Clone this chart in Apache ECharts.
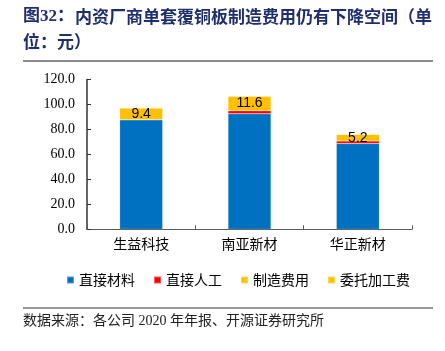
<!DOCTYPE html>
<html>
<head>
<meta charset="utf-8">
<script src="https://cdn.jsdelivr.net/npm/echarts@6/dist/echarts.min.js"></script>
<style>
html,body{margin:0;padding:0;background:#fff;}
#main{width:445px;height:351px;}
</style>
</head>
<body>
<div id="main"></div>
<script>
// 单套覆铜板成本拆分（元）
var categories = ['生益科技', '南亚新材', '华正新材'];
var material = [87.7, 92.5, 68.7];      // 直接材料
var labor = [0, 2.4, 2.1];              // 直接人工
var manufacturing = [9.4, 11.6, 5.2];   // 制造费用
var outsourcing = [0, 0.3, 0.4];        // 委托加工费
var yTicks = [0, 20, 40, 60, 80, 100, 120];

var serifCn = '"Liberation Serif", "Noto Sans CJK SC"';
var sansCn = '"Noto Sans CJK SC"';

function barSeries(name, data, color, label) {
    return {
        name: name,
        type: 'bar',
        stack: 'cost',
        barWidth: 43,
        data: data,
        itemStyle: {
            color: color,
            borderColor: 'rgba(255,255,255,0.35)',
            borderWidth: 0.5
        },
        label: label ? {
            show: true,
            position: 'inside',
            color: '#000',
            fontSize: 14,
            fontFamily: 'Liberation Sans',
            formatter: function (p) { return p.value.toFixed(1); }
        } : { show: false }
    };
}

var myChart = echarts.init(document.getElementById('main'), null, {renderer: 'canvas'});
var option = {
    backgroundColor: '#FFFFFF',
    animation: false,
    graphic: [
        {type: 'text', left: 23, top: 8, style: {text: '图32：', fontSize: 17, fontWeight: 'bold', fill: '#1f2f6e', fontFamily: serifCn}},
        {type: 'text', left: 75, top: 8, style: {text: '内资厂商单套覆铜板制造费用仍有下降空间（单', fontSize: 17, fontWeight: 'bold', fill: '#1f2f6e', fontFamily: sansCn}},
        {type: 'text', left: 23, top: 33, style: {text: '位：元）', fontSize: 17, fontWeight: 'bold', fill: '#1f2f6e', fontFamily: sansCn}},
        {type: 'line', shape: {x1: 23, y1: 61, x2: 433, y2: 61}, style: {stroke: '#666', lineWidth: 1.5}},
        {type: 'line', shape: {x1: 23, y1: 308, x2: 433, y2: 308}, style: {stroke: '#333', lineWidth: 1.2}},
        {type: 'text', left: 23, top: 314, style: {text: '数据来源：各公司 2020 年年报、开源证券研究所', fontSize: 14, fill: '#222', fontFamily: serifCn}}
    ],
    legend: {
        left: 61,
        top: 268,
        icon: 'rect',
        itemWidth: 7,
        itemHeight: 7,
        itemGap: 18,
        textStyle: {fontSize: 14, color: '#000', fontFamily: sansCn},
        data: ['直接材料', '直接人工', '制造费用', '委托加工费']
    },
    grid: {
        left: 87,
        right: 33,
        top: 79.5,
        bottom: 121.7,
        outerBoundsMode: 'none'
    },
    xAxis: {
        type: 'category',
        data: categories,
        axisLine: {lineStyle: {color: '#595959', width: 1}},
        axisTick: {show: true, inside: true, length: 4, alignWithLabel: false, lineStyle: {color: '#595959'}},
        axisLabel: {margin: 9, fontSize: 14, color: '#000', fontFamily: serifCn}
    },
    yAxis: {
        type: 'value',
        min: yTicks[0],
        max: yTicks[yTicks.length - 1],
        interval: 20,
        splitLine: {show: false},
        axisLine: {show: true, lineStyle: {color: '#333', width: 1.5}},
        axisTick: {show: true, inside: true, length: 4, lineStyle: {color: '#333'}},
        axisLabel: {
            margin: 12,
            fontSize: 14,
            color: '#000',
            fontFamily: 'Liberation Serif',
            formatter: function (v) { return v.toFixed(1); }
        }
    },
    series: [
        barSeries('直接材料', material, '#0070C0', false),
        barSeries('直接人工', labor, '#FF0000', false),
        barSeries('制造费用', manufacturing, '#FFC000', true),
        barSeries('委托加工费', outsourcing, '#FFC000', false)
    ]
};
myChart.setOption(option);
</script>
</body>
</html>
